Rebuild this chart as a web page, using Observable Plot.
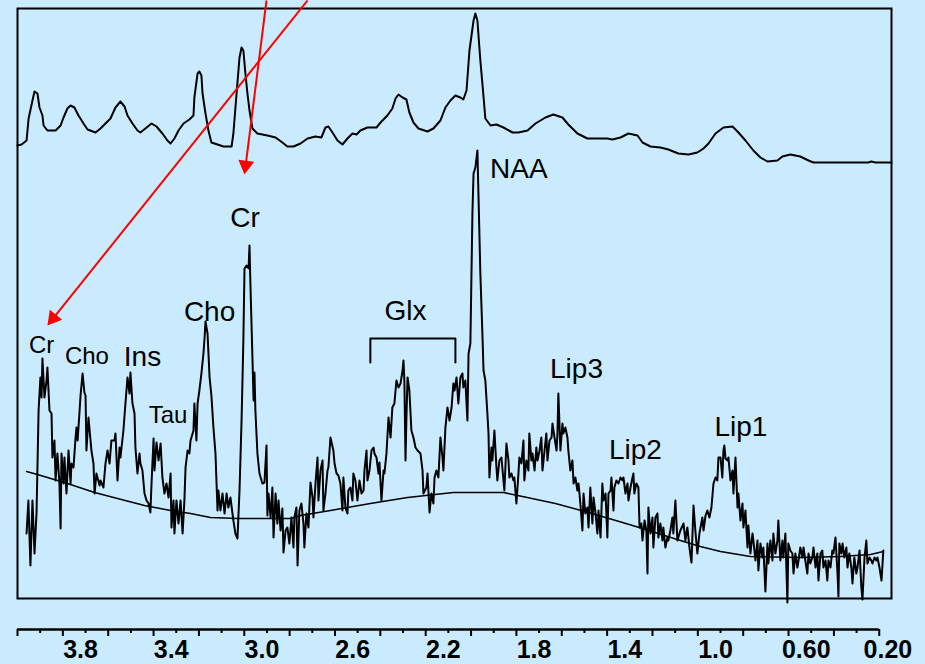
<!DOCTYPE html>
<html>
<head>
<meta charset="utf-8">
<script src="https://cdn.jsdelivr.net/npm/d3@7"></script>
<script src="https://cdn.jsdelivr.net/npm/@observablehq/plot@0.6"></script>
<style>
  html, body { margin: 0; padding: 0; background: #caebfd; }
  #chart { width: 925px; height: 664px; }
</style>
</head>
<body>
<div id="chart"></div>
<script>
// ---------- DATA (chemical shift in ppm, signal in arbitrary units) ----------
// Upper (smoothed / reference) spectrum
const upperTrace = [
[4.100,453],[4.082,454],[4.060,458],[4.051,480],[4.034,498],[4.025,507],[4.012,505],[4.003,491],[3.990,483],[3.985,473],
[3.968,468],[3.932,468],[3.910,473],[3.897,481],[3.880,490],[3.866,493],[3.849,491],[3.831,483],[3.809,475],[3.791,469],
[3.756,466],[3.734,470],[3.712,475],[3.690,480],[3.668,491],[3.646,497],[3.628,492],[3.615,483],[3.593,475],[3.571,468],
[3.558,466],[3.536,470],[3.509,475],[3.487,472],[3.461,465],[3.439,458],[3.425,455],[3.408,460],[3.390,468],[3.368,475],
[3.342,479],[3.324,483],[3.320,501],[3.306,525],[3.298,527],[3.289,523],[3.284,505],[3.271,485],[3.258,468],[3.245,456],
[3.218,454],[3.192,452],[3.156,452],[3.148,465],[3.134,505],[3.121,541],[3.112,551],[3.104,548],[3.095,525],[3.086,505],
[3.077,488],[3.064,470],[3.042,465],[2.998,463],[2.962,461],[2.932,456],[2.910,452],[2.883,452],[2.852,455],[2.821,460],
[2.786,462],[2.760,461],[2.742,471],[2.729,472],[2.711,466],[2.689,458],[2.667,454],[2.645,460],[2.623,465],[2.605,464],
[2.588,468],[2.557,471],[2.517,471],[2.499,476],[2.469,483],[2.447,490],[2.433,500],[2.420,504],[2.402,501],[2.385,499],
[2.372,486],[2.354,476],[2.332,470],[2.292,467],[2.266,470],[2.235,478],[2.213,491],[2.191,498],[2.169,503],[2.147,501],
[2.134,499],[2.120,508],[2.107,548],[2.089,578],[2.081,585],[2.072,578],[2.059,538],[2.050,515],[2.041,491],[2.037,480],
[2.014,473],[1.988,474],[1.957,471],[1.917,466],[1.891,466],[1.851,468],[1.816,475],[1.772,481],[1.737,484],[1.697,481],
[1.671,474],[1.631,465],[1.587,460],[1.499,460],[1.477,459],[1.441,461],[1.406,465],[1.366,463],[1.344,456],[1.309,452],
[1.265,451],[1.230,449],[1.186,445],[1.141,444],[1.102,446],[1.075,450],[1.053,455],[1.022,465],[0.987,471],[0.947,472],
[0.921,466],[0.890,458],[0.855,448],[0.824,441],[0.793,437],[0.749,438],[0.727,442],[0.692,444],[0.648,442],[0.612,438],
[0.590,436],[0.348,436],[0.335,437],[0.317,436],[0.246,436]
];

// Lower (raw, noisy) spectrum
const lowerTrace = [
[4.060,65],[4.052,98],[4.043,33],[4.034,98],[4.025,45],[4.016,86],[4.007,188],[3.999,221],[3.994,201],[3.990,240],
[3.981,201],[3.972,218],[3.968,231],[3.959,188],[3.950,185],[3.946,141],[3.937,158],[3.932,118],[3.924,145],[3.915,115],
[3.910,70],[3.906,145],[3.897,115],[3.893,141],[3.884,105],[3.875,148],[3.866,115],[3.862,135],[3.853,131],[3.844,161],
[3.840,171],[3.835,158],[3.827,185],[3.822,203],[3.813,225],[3.805,206],[3.800,203],[3.796,148],[3.787,181],[3.778,158],
[3.774,148],[3.765,135],[3.760,105],[3.752,125],[3.738,113],[3.734,118],[3.721,111],[3.712,135],[3.703,148],[3.694,135],
[3.686,158],[3.672,158],[3.668,165],[3.659,118],[3.650,151],[3.646,141],[3.633,168],[3.624,195],[3.615,221],[3.606,205],
[3.602,226],[3.593,195],[3.584,185],[3.580,151],[3.571,125],[3.562,145],[3.558,135],[3.549,128],[3.540,105],[3.531,98],
[3.522,95],[3.514,86],[3.509,115],[3.500,160],[3.496,128],[3.487,156],[3.478,138],[3.469,155],[3.461,121],[3.452,105],
[3.443,115],[3.434,101],[3.425,125],[3.421,71],[3.412,98],[3.408,65],[3.399,98],[3.390,75],[3.381,98],[3.372,65],
[3.364,98],[3.359,131],[3.350,148],[3.342,145],[3.337,158],[3.324,168],[3.320,195],[3.311,158],[3.306,195],[3.298,208],
[3.289,225],[3.280,245],[3.275,261],[3.271,277],[3.262,265],[3.253,221],[3.245,203],[3.236,171],[3.227,145],[3.218,88],
[3.214,108],[3.205,88],[3.196,105],[3.187,85],[3.178,105],[3.170,91],[3.161,101],[3.152,85],[3.148,78],[3.139,65],
[3.130,60],[3.121,108],[3.112,178],[3.104,258],[3.099,330],[3.090,333],[3.081,330],[3.077,353],[3.073,315],[3.064,241],
[3.059,198],[3.055,226],[3.051,188],[3.042,145],[3.033,125],[3.020,115],[3.011,116],[3.002,153],[2.998,83],[2.993,105],
[2.984,81],[2.976,111],[2.971,61],[2.962,105],[2.954,75],[2.949,98],[2.940,68],[2.932,90],[2.927,46],[2.918,68],
[2.910,71],[2.901,55],[2.892,81],[2.883,51],[2.879,81],[2.870,91],[2.865,33],[2.857,88],[2.848,95],[2.839,75],
[2.835,51],[2.826,85],[2.817,71],[2.808,116],[2.799,101],[2.795,81],[2.786,115],[2.777,141],[2.773,98],[2.764,128],
[2.755,138],[2.751,88],[2.742,105],[2.733,128],[2.729,131],[2.720,161],[2.707,148],[2.702,135],[2.693,125],[2.685,123],
[2.676,115],[2.667,88],[2.663,121],[2.654,91],[2.645,85],[2.641,108],[2.632,111],[2.623,98],[2.619,125],[2.610,118],
[2.601,98],[2.592,118],[2.583,105],[2.574,108],[2.570,128],[2.561,148],[2.557,118],[2.548,128],[2.539,148],[2.530,151],
[2.526,145],[2.517,141],[2.508,125],[2.504,136],[2.495,98],[2.486,128],[2.482,125],[2.473,145],[2.464,181],[2.455,161],
[2.447,191],[2.438,195],[2.429,218],[2.420,211],[2.411,215],[2.402,228],[2.398,238],[2.394,218],[2.389,138],[2.385,181],
[2.380,221],[2.372,208],[2.363,168],[2.354,161],[2.345,151],[2.336,148],[2.323,145],[2.314,128],[2.310,105],[2.297,111],
[2.292,125],[2.283,86],[2.275,105],[2.266,95],[2.261,121],[2.253,128],[2.244,121],[2.235,161],[2.226,141],[2.222,128],
[2.213,171],[2.204,191],[2.195,178],[2.186,191],[2.178,215],[2.173,208],[2.164,221],[2.156,195],[2.147,221],[2.138,225],
[2.134,211],[2.125,218],[2.116,178],[2.111,245],[2.103,255],[2.094,385],[2.089,425],[2.081,431],[2.072,448],[2.067,401],
[2.059,325],[2.050,265],[2.045,228],[2.037,218],[2.028,185],[2.023,165],[2.019,121],[2.010,151],[2.006,138],[1.997,168],
[1.988,131],[1.984,118],[1.975,138],[1.966,141],[1.957,118],[1.953,108],[1.944,155],[1.935,138],[1.931,121],[1.922,125],
[1.913,118],[1.909,121],[1.900,95],[1.891,125],[1.887,141],[1.878,135],[1.869,158],[1.865,118],[1.856,138],[1.847,128],
[1.843,165],[1.834,138],[1.829,145],[1.820,128],[1.812,151],[1.807,138],[1.798,148],[1.790,161],[1.785,128],[1.776,148],
[1.768,165],[1.763,138],[1.754,158],[1.745,161],[1.741,175],[1.732,161],[1.723,148],[1.719,165],[1.715,205],[1.706,148],
[1.697,175],[1.693,165],[1.684,171],[1.675,161],[1.671,148],[1.662,128],[1.653,138],[1.648,115],[1.640,121],[1.631,108],
[1.626,115],[1.618,95],[1.609,68],[1.604,105],[1.596,85],[1.587,91],[1.582,71],[1.574,111],[1.565,75],[1.560,101],
[1.551,85],[1.543,65],[1.538,88],[1.529,61],[1.521,115],[1.516,98],[1.507,105],[1.499,61],[1.494,105],[1.485,108],
[1.481,121],[1.472,88],[1.468,111],[1.459,118],[1.450,115],[1.441,121],[1.432,118],[1.428,121],[1.419,105],[1.410,115],
[1.406,98],[1.397,111],[1.388,121],[1.384,125],[1.380,105],[1.371,115],[1.362,111],[1.357,71],[1.349,75],[1.344,58],
[1.335,78],[1.327,68],[1.322,25],[1.318,91],[1.309,65],[1.300,81],[1.296,51],[1.287,81],[1.278,85],[1.274,61],
[1.265,75],[1.256,58],[1.252,71],[1.243,51],[1.234,61],[1.230,58],[1.221,68],[1.212,81],[1.208,65],[1.199,98],
[1.190,58],[1.177,68],[1.163,75],[1.155,58],[1.146,71],[1.137,51],[1.128,36],[1.119,93],[1.111,68],[1.102,45],
[1.093,65],[1.080,81],[1.075,68],[1.066,83],[1.058,88],[1.049,81],[1.040,91],[1.031,115],[1.022,121],[1.014,118],
[1.009,141],[1.000,141],[0.992,121],[0.987,148],[0.983,153],[0.978,140],[0.969,138],[0.965,141],[0.956,118],[0.947,128],
[0.943,105],[0.934,141],[0.925,91],[0.921,105],[0.912,78],[0.903,95],[0.899,71],[0.890,88],[0.881,51],[0.877,73],
[0.868,45],[0.859,65],[0.855,58],[0.846,38],[0.837,58],[0.833,28],[0.824,55],[0.815,41],[0.811,51],[0.802,7],
[0.793,55],[0.789,35],[0.780,58],[0.771,38],[0.767,65],[0.758,45],[0.749,58],[0.745,78],[0.736,38],[0.727,58],
[0.723,41],[0.714,65],[0.705,-4],[0.701,55],[0.692,48],[0.683,45],[0.678,25],[0.670,45],[0.661,31],[0.656,38],
[0.648,51],[0.639,41],[0.634,51],[0.626,38],[0.617,25],[0.612,45],[0.604,35],[0.595,41],[0.590,51],[0.581,31],
[0.573,45],[0.568,18],[0.559,45],[0.551,48],[0.546,31],[0.537,38],[0.529,18],[0.524,38],[0.515,31],[0.507,48],
[0.502,45],[0.493,61],[0.484,25],[0.480,2],[0.476,55],[0.467,45],[0.462,55],[0.454,41],[0.445,51],[0.440,31],
[0.432,45],[0.423,31],[0.418,15],[0.410,41],[0.401,25],[0.396,31],[0.387,48],[0.379,11],[0.374,-1],[0.365,41],
[0.357,58],[0.352,35],[0.343,41],[0.335,38],[0.330,35],[0.321,41],[0.313,38],[0.308,41],[0.299,31],[0.290,18],
[0.282,48]
];

// Fitted baseline under the lower spectrum
const baselineTrace = [
[4.060,127],[4.012,124],[3.880,115],[3.760,106],[3.659,100],[3.540,93],[3.425,88],[3.337,85],[3.249,81],[3.130,80],
[2.896,80],[2.852,83],[2.720,88],[2.544,95],[2.380,101],[2.178,106],[1.957,106],[1.873,102],[1.728,95],[1.582,86],
[1.432,76],[1.344,70],[1.177,58],[1.089,52],[1.000,47],[0.868,42],[0.648,41],[0.471,42],[0.339,44],[0.282,47]
];

// Peak labels: large and small
const largeLabelText = ["Cho", "Cr", "Ins", "Glx", "NAA", "Lip3", "Lip2", "Lip1"];
const largeLabelPpm  = [3.253, 3.097, 3.549, 2.389, 1.889, 1.635, 1.375, 0.910];
const largeLabelY    = [278, 372, 233, 279, 421, 221, 140, 163];
const smallLabelText = ["Cr", "Cho", "Tau"];
const smallLabelPpm  = [3.994, 3.794, 3.436];
const smallLabelY    = [246, 235, 176];

// Glx bracket (ppm range and heights)
const glxBracketPpm = [2.544, 2.169];
const glxBracketY = [236, 260];

// Red arrows (from top of picture to the Cr labels)
const arrowFromPpm = [3.002, 2.821];
const arrowFromY   = [598, 598];
const arrowToPpm   = [3.099, 3.968];
const arrowToY     = [424, 273];

// Axis ticks
const longTicks  = [4.1,3.9,3.7,3.5,3.3,3.1,2.9,2.7,2.5,2.3,2.1,1.9,1.7,1.5,1.3,1.1,0.9,0.7,0.5,0.3];
const shortTicks = [4.0,3.8,3.6,3.4,3.2,3.0,2.8,2.6,2.4,2.2,2.0,1.8,1.6,1.4,1.2,1.0,0.8,0.6,0.4];
const tickLabelPpm  = [3.8, 3.4, 3.0, 2.6, 2.2, 1.8, 1.4, 1.0, 0.6, 0.2];
const tickLabelText = ["3.8", "3.4", "3.0", "2.6", "2.2", "1.8", "1.4", "1.0", "0.60", "0.20"];

// ---------- BUILD ----------
const W = 925, H = 664;
const mL = 17, mR = 34, mT = 8, mB = 35;
const xDomain = [4.1, 0.246];
const yDomain = [-31, 590];

const toObj = ([ppm, v]) => ({ppm, v});
const upper = upperTrace.map(toObj);
const lower = lowerTrace.map(toObj);
const base = baselineTrace.map(toObj);

const largeLabels = largeLabelText.map((t, i) => ({t, ppm: largeLabelPpm[i], y: largeLabelY[i]}));
const smallLabels = smallLabelText.map((t, i) => ({t, ppm: smallLabelPpm[i], y: smallLabelY[i]}));

const bracket = [
  {ppm: glxBracketPpm[0], v: glxBracketY[0]},
  {ppm: glxBracketPpm[0], v: glxBracketY[1]},
  {ppm: glxBracketPpm[1], v: glxBracketY[1]},
  {ppm: glxBracketPpm[1], v: glxBracketY[0]}
];

// mirror scales to orient the arrowheads
const xs = d3.scaleLinear(xDomain, [mL, W - mR]);
const ys = d3.scaleLinear(yDomain, [H - mB, mT]);
const headR = 5.9;
const headH = 2 * headR * Math.sqrt(Math.PI / (3 * Math.sqrt(3))); // centroid-to-tip distance
const arrows = arrowFromPpm.map((_, i) => {
  const x1 = xs(arrowFromPpm[i]), y1 = ys(arrowFromY[i]);
  const x2 = xs(arrowToPpm[i]), y2 = ys(arrowToY[i]);
  const dx = x2 - x1, dy = y2 - y1, L = Math.hypot(dx, dy);
  const cx = x2 - dx / L * headH, cy = y2 - dy / L * headH;
  return {
    x1: arrowFromPpm[i], y1: arrowFromY[i],
    hx: xs.invert(cx), hy: ys.invert(cy),
    angle: Math.atan2(dx, -dy) * 180 / Math.PI
  };
});

const labelMap = new Map(tickLabelPpm.map((p, i) => [p, tickLabelText[i]]));
const fmt = d => labelMap.get(d) ?? "";

const chart = Plot.plot({
  width: W, height: H,
  marginLeft: mL, marginRight: mR, marginTop: mT, marginBottom: mB,
  x: {domain: xDomain, axis: null},
  y: {domain: yDomain, axis: null},
  style: {background: "#caebfd", fontFamily: "'Liberation Sans', Arial, sans-serif", color: "black"},
  marks: [
    Plot.frame({insetBottom: 31, stroke: "black", strokeWidth: 2}),
    // axis line and ticks
    Plot.ruleY([yDomain[0]], {x1: longTicks[0], x2: longTicks[longTicks.length - 1], stroke: "black", strokeWidth: 2.5}),
    Plot.axisX({ticks: longTicks, tickSize: 7, strokeWidth: 2, tickFormat: () => ""}),
    Plot.axisX({ticks: shortTicks, tickSize: 4, strokeWidth: 2, tickFormat: () => ""}),
    Plot.axisX({ticks: tickLabelPpm.slice(0, 9), tickSize: 0, tickPadding: 11, dx: -5,
      fontSize: 25, fontWeight: "bold", tickFormat: fmt}),
    Plot.axisX({ticks: tickLabelPpm.slice(9), tickSize: 0, tickPadding: 11, dx: -14,
      fontSize: 25, fontWeight: "bold", tickFormat: fmt}),
    // spectra
    Plot.line(base, {x: "ppm", y: "v", stroke: "black", strokeWidth: 1.5}),
    Plot.line(upper, {x: "ppm", y: "v", stroke: "black", strokeWidth: 2}),
    Plot.line(lower, {x: "ppm", y: "v", stroke: "black", strokeWidth: 2}),
    // Glx bracket
    Plot.line(bracket, {x: "ppm", y: "v", stroke: "black", strokeWidth: 2}),
    // labels
    Plot.text(largeLabels, {x: "ppm", y: "y", text: "t", fontSize: 28, textAnchor: "middle", lineAnchor: "bottom", fill: "black"}),
    Plot.text(smallLabels, {x: "ppm", y: "y", text: "t", fontSize: 24, textAnchor: "middle", lineAnchor: "bottom", fill: "black"}),
    // red arrows
    Plot.link(arrows, {x1: "x1", y1: "y1", x2: "hx", y2: "hy", stroke: "red", strokeWidth: 2}),
    Plot.dot(arrows, {x: "hx", y: "hy", r: headR, symbol: "triangle", rotate: "angle", fill: "red", stroke: "none"})
  ]
});
document.getElementById("chart").appendChild(chart);
</script>
</body>
</html>
